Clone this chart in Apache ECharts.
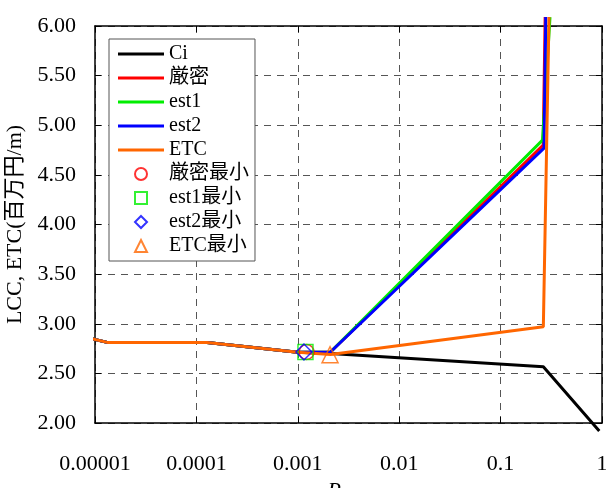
<!DOCTYPE html>
<html>
<head>
<meta charset="utf-8">
<script src="https://cdn.jsdelivr.net/npm/echarts@6/dist/echarts.min.js"></script>
<style>html,body{margin:0;padding:0;background:#fff;}#c{width:606px;height:488px;}</style>
</head>
<body>
<div id="c"></div>
<script>
// ---- data ----
const xTickValues = [0.00001, 0.0001, 0.001, 0.01, 0.1, 1];
const xTickLabels = ['0.00001', '0.0001', '0.001', '0.01', '0.1', '1'];
const yTickLabels = ['2.00', '2.50', '3.00', '3.50', '4.00', '4.50', '5.00', '5.50', '6.00'];

const ciX = [8.4e-6, 1.35e-5, 1.27e-4, 0.001, 0.0021, 0.264, 0.94];
const ciY = [2.86, 2.81, 2.81, 2.712, 2.70, 2.567, 1.92];

const exactX = [8.4e-6, 1.35e-5, 1.27e-4, 0.001, 0.0021, 0.263, 0.275];
const exactY = [2.86, 2.81, 2.81, 2.712, 2.715, 4.80, 6.09];

const est1X = [8.4e-6, 1.35e-5, 1.27e-4, 0.001, 0.0021, 0.259, 0.307];
const est1Y = [2.86, 2.81, 2.81, 2.712, 2.715, 4.85, 6.09];

const est2X = [8.4e-6, 1.35e-5, 1.27e-4, 0.001, 0.0021, 0.268, 0.279];
const est2Y = [2.86, 2.81, 2.81, 2.712, 2.715, 4.77, 6.09];

const etcX = [8.4e-6, 1.35e-5, 1.27e-4, 0.001, 0.0021, 0.264, 0.30];
const etcY = [2.86, 2.81, 2.81, 2.712, 2.69, 2.97, 6.09];

const exactMinX = [0.00122], exactMinY = [2.715];
const est1MinX = [0.00119], est1MinY = [2.715];
const est2MinX = [0.00115], est2MinY = [2.715];
const etcMinX = [0.00208], etcMinY = [2.688];

const names = ['Ci', '厳密', 'est1', 'est2', 'ETC', '厳密最小', 'est1最小', 'est2最小', 'ETC最小'];

// ---- build ----
const zip = (xs, ys) => xs.map((x, i) => [x, ys[i]]);
const FONT = "'Liberation Serif', 'Noto Sans CJK JP', serif";
const LINE_ICON = 'path://M0 0H46V3H0Z';
const RECT_ICON = 'path://M0 0H10V10H0Z';
const DIAMOND_ICON = 'path://M5 0L10 5L5 10L0 5Z';
const TRIANGLE_ICON = 'path://M5 0L10 10H0Z';

function lineSeries(name, xs, ys, color, z) {
  return {
    name, type: 'line', data: zip(xs, ys), symbol: 'none', clip: false,
    lineStyle: { color, width: 3 }, itemStyle: { color }, z
  };
}
function markSeries(name, xs, ys, color, symbol, size) {
  return {
    name, type: 'scatter', data: zip(xs, ys), symbol, symbolSize: size, clip: false,
    symbolKeepAspect: true,
    itemStyle: { color: 'rgba(255,255,255,0)', borderColor: color, borderWidth: 1.5 }, z: 10
  };
}

const chart = echarts.init(document.getElementById('c'), null, { renderer: 'canvas' });
const gridLine = { show: true, lineStyle: { color: '#555', type: [7, 6], width: 1 } };
chart.setOption({
  animation: false,
  backgroundColor: '#fff',
  textStyle: { fontFamily: FONT },
  grid: { left: 95, right: 4, top: 26, bottom: 65, containLabel: false, outerBoundsMode: 'none' },
  xAxis: [{
    type: 'log', logBase: 10, min: 0.00001, max: 1, position: 'bottom',
    axisLine: { show: true, lineStyle: { color: '#000', width: 1.5 } },
    axisTick: { show: true, inside: true, length: 6, lineStyle: { color: '#000' } },
    minorTick: { show: false },
    splitLine: gridLine,
    axisLabel: {
      margin: 30, fontSize: 22, color: '#000', fontFamily: FONT,
      formatter: v => { const i = xTickValues.findIndex(t => Math.abs(Math.log10(t) - Math.log10(v)) < 1e-6); return i >= 0 ? xTickLabels[i] : ''; }
    },
    name: '{p|P}{s|cr50}', nameLocation: 'middle', nameGap: 57,
    nameTextStyle: { rich: { p: { fontSize: 22, fontStyle: 'italic', fontFamily: FONT, color: '#000' }, s: { fontSize: 15, fontFamily: FONT, color: '#000', padding: [6, 0, 0, 2] } } }
  }, {
    type: 'log', logBase: 10, min: 0.00001, max: 1, position: 'top',
    axisLine: { show: true, lineStyle: { color: '#000', width: 1.5 } },
    axisTick: { show: true, inside: true, length: 6, lineStyle: { color: '#000' } },
    axisLabel: { show: false }, splitLine: { show: false }
  }],
  yAxis: [{
    type: 'value', min: 2, max: 6, interval: 0.5, position: 'left',
    axisLine: { show: true, lineStyle: { color: '#000', width: 1.5 } },
    axisTick: { show: true, inside: true, length: 6, lineStyle: { color: '#000' } },
    splitLine: gridLine,
    axisLabel: {
      margin: 19, fontSize: 22, color: '#000', fontFamily: FONT,
      formatter: v => yTickLabels[Math.round((v - 2) / 0.5)]
    },
    name: 'LCC, ETC(百万円/m)', nameLocation: 'middle', nameGap: 69,
    nameTextStyle: { fontSize: 22, color: '#000', fontFamily: FONT }
  }, {
    type: 'value', min: 2, max: 6, interval: 0.5, position: 'right',
    axisLine: { show: true, lineStyle: { color: '#000', width: 1.5 } },
    axisTick: { show: true, inside: true, length: 6, lineStyle: { color: '#000' } },
    axisLabel: { show: false }, splitLine: { show: false }
  }],
  legend: {
    orient: 'vertical', left: 109, top: 39,
    padding: [5, 6, 5, 9],
    itemWidth: 46, itemHeight: 12, itemGap: 4, itemTextGap: 5,
    symbolKeepAspect: true,
    backgroundColor: '#fff', borderColor: '#555', borderWidth: 1,
    textStyle: { fontSize: 20, lineHeight: 20, color: '#000', fontFamily: FONT },
    data: [
      { name: names[0], icon: LINE_ICON },
      { name: names[1], icon: LINE_ICON },
      { name: names[2], icon: LINE_ICON },
      { name: names[3], icon: LINE_ICON },
      { name: names[4], icon: LINE_ICON },
      { name: names[5], icon: 'circle' },
      { name: names[6], icon: RECT_ICON },
      { name: names[7], icon: DIAMOND_ICON },
      { name: names[8], icon: TRIANGLE_ICON }
    ]
  },
  series: [
    lineSeries(names[0], ciX, ciY, '#000000', 2),
    lineSeries(names[1], exactX, exactY, '#ff0000', 3),
    lineSeries(names[2], est1X, est1Y, '#00ee00', 4),
    lineSeries(names[3], est2X, est2Y, '#0000ff', 5),
    lineSeries(names[4], etcX, etcY, '#ff6600', 6),
    markSeries(names[5], exactMinX, exactMinY, '#ff0000', 'circle', 15),
    markSeries(names[6], est1MinX, est1MinY, '#00ee00', 'rect', 15),
    markSeries(names[7], est2MinX, est2MinY, '#0000ff', 'diamond', 16),
    markSeries(names[8], etcMinX, etcMinY, '#ff6600', 'triangle', 16)
  ]
});
</script>
</body>
</html>
